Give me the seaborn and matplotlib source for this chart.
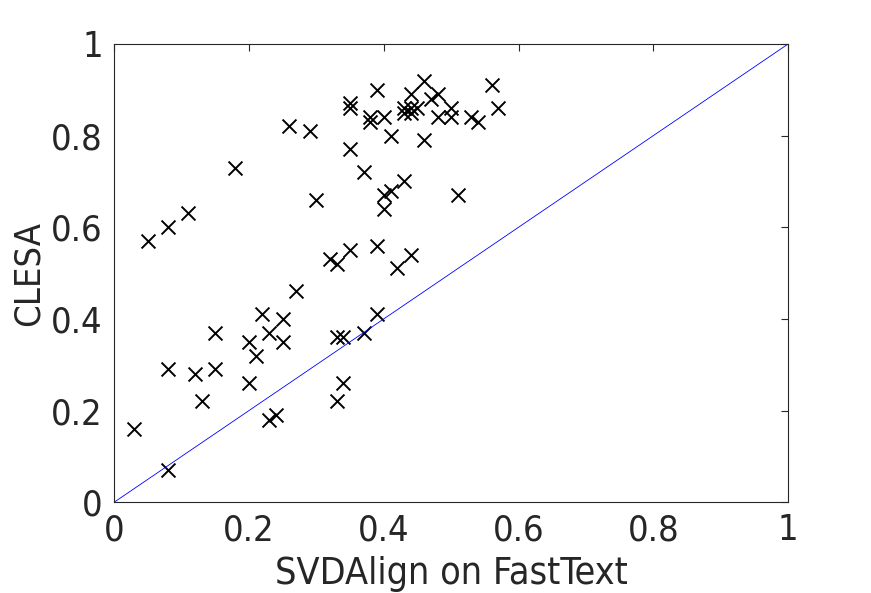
import numpy as np
import pandas as pd
import matplotlib
matplotlib.use('Agg')
import matplotlib.pyplot as plt
from matplotlib import font_manager
import seaborn as sns

# SVDAlign on FastText vs CLESA scores
svdalign = [0.03, 0.08, 0.08, 0.12, 0.13, 0.15, 0.15, 0.20, 0.20, 0.21,
            0.22, 0.23, 0.23, 0.24, 0.25, 0.25, 0.27, 0.32, 0.33, 0.33,
            0.34, 0.33, 0.34, 0.35, 0.37, 0.39, 0.39, 0.42, 0.44, 0.05,
            0.08, 0.11, 0.18, 0.26, 0.29, 0.30, 0.35, 0.35, 0.35, 0.37,
            0.38, 0.38, 0.39, 0.40, 0.40, 0.40, 0.41, 0.41, 0.43, 0.43,
            0.43, 0.44, 0.44, 0.44, 0.45, 0.46, 0.46, 0.47, 0.48, 0.48,
            0.50, 0.50, 0.51, 0.53, 0.54, 0.56, 0.57]
clesa = [0.16, 0.07, 0.29, 0.28, 0.22, 0.29, 0.37, 0.26, 0.35, 0.32,
         0.41, 0.37, 0.18, 0.19, 0.35, 0.40, 0.46, 0.53, 0.52, 0.36,
         0.36, 0.22, 0.26, 0.55, 0.37, 0.41, 0.56, 0.51, 0.54, 0.57,
         0.60, 0.63, 0.73, 0.82, 0.81, 0.66, 0.87, 0.86, 0.77, 0.72,
         0.83, 0.84, 0.90, 0.84, 0.67, 0.64, 0.68, 0.80, 0.70, 0.85,
         0.86, 0.86, 0.85, 0.89, 0.86, 0.92, 0.79, 0.88, 0.89, 0.84,
         0.84, 0.86, 0.67, 0.84, 0.83, 0.91, 0.86]

df = pd.DataFrame({'SVDAlign on FastText': svdalign, 'CLESA': clesa})

sns.set_style('white')
plt.rcParams['font.family'] = ['DejaVu Sans']
# the reference text is a narrow face; use the condensed DejaVu if present
cond = [f for f in font_manager.fontManager.ttflist
        if f.name == 'DejaVu Sans' and f.stretch == 'condensed']
if cond:
    plt.rcParams['font.stretch'] = 'condensed'
    fs = 26
else:
    fs = 23

fig = plt.figure(figsize=(8.71, 5.93), dpi=100)
ax = fig.add_axes([0.131, 0.153, 0.774, 0.773])

ax.plot([0, 1], [0, 1], color='blue', linewidth=0.6)
sns.scatterplot(data=df, x='SVDAlign on FastText', y='CLESA', ax=ax,
                marker='x', color='black', s=100, linewidth=1.4)

ax.set_xlim(0, 1)
ax.set_ylim(0, 1)
ticks = [0, 0.2, 0.4, 0.6, 0.8, 1]
tick_labels = ['0', '0.2', '0.4', '0.6', '0.8', '1']
ax.set_xticks(ticks)
ax.set_xticklabels(tick_labels)
ax.set_yticks(ticks)
ax.set_yticklabels(tick_labels)
ax.tick_params(direction='in', length=5, width=0.8, top=True, right=True,
               labelsize=fs, colors='#262626', pad=8)
ax.set_xlabel('SVDAlign on FastText', fontsize=fs + 1, color='#262626', labelpad=6)
ax.set_ylabel('CLESA', fontsize=fs, color='#262626', labelpad=4)
for sp in ax.spines.values():
    sp.set_color('#262626')
    sp.set_linewidth(0.8)

fig.savefig('out.png', dpi=100)
